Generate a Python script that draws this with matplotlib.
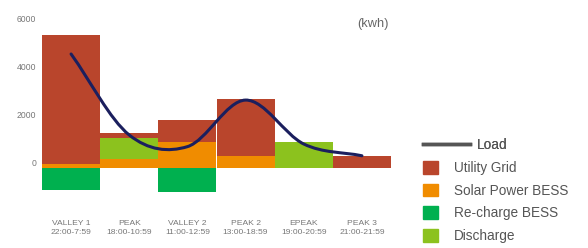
import numpy as np
import matplotlib
matplotlib.use("Agg")
from matplotlib import pyplot as plt
from matplotlib.path import Path
from matplotlib.patches import PathPatch, Patch
from matplotlib.lines import Line2D

plt.rcParams["font.family"] = ["Liberation Sans", "DejaVu Sans"]

categories = ["VALLEY 1\n22:00-7:59", "PEAK\n18:00-10:59", "VALLEY 2\n11:00-12:59",
              "PEAK 2\n13:00-18:59", "EPEAK\n19:00-20:59", "PEAK 3\n21:00-21:59"]
solar = [180, 370, 1100, 510, 0, 0]
discharge = [0, 890, 0, 0, 1080, 0]
utility = [5380, 200, 900, 2365, 0, 500]
recharge = [-920, 0, -990, 0, 0, 0]
load = [4750, 1375, 890, 2830, 1000, 510]

c_utility = "#b9452c"
c_solar = "#f08c00"
c_recharge = "#00b04f"
c_discharge = "#8cc21e"
c_load = "#1b1f5e"

fig = plt.figure(figsize=(5.88, 2.48), dpi=100)
ax = fig.add_axes([42 / 588, 1 - 192 / 248, (391 - 42) / 588, (192 - 24) / 248])

x = np.arange(len(categories))
solar = np.array(solar)
discharge = np.array(discharge)
ax.bar(x, solar, width=1.0, color=c_solar, linewidth=0)
ax.bar(x, discharge, width=1.0, bottom=solar, color=c_discharge, linewidth=0)
ax.bar(x, utility, width=1.0, bottom=solar + discharge, color=c_utility, linewidth=0)
ax.bar(x, recharge, width=1.0, color=c_recharge, linewidth=0)

# smooth load line (catmull-rom style bezier)
y = np.array(load, dtype=float)
n = len(y)
m = np.zeros(n)
m[0] = y[1] - y[0]
m[-1] = y[-1] - y[-2]
m[1:-1] = (y[2:] - y[:-2]) / 2
verts = [(x[0], y[0])]
codes = [Path.MOVETO]
for i in range(n - 1):
    verts += [(x[i] + 1 / 3, y[i] + m[i] / 3),
              (x[i + 1] - 1 / 3, y[i + 1] - m[i + 1] / 3),
              (x[i + 1], y[i + 1])]
    codes += [Path.CURVE4] * 3
ax.add_patch(PathPatch(Path(verts, codes), fill=False, edgecolor=c_load, lw=2.2,
                       capstyle="round", zorder=5))

ax.set_xlim(-0.5, 5.5)
ax.set_ylim(-1000, 6000)
ax.set_yticks([0, 2000, 4000, 6000])
ax.set_xticks(x)
ax.set_xticklabels(categories, fontsize=6.1, color="#777777", linespacing=1.45)
for lab in ax.get_yticklabels():
    lab.set_verticalalignment("bottom")
ax.tick_params(axis="y", length=0, pad=4, labelsize=6.2, labelcolor="#777777")
ax.tick_params(axis="x", length=0, pad=20)
for s in ax.spines.values():
    s.set_visible(False)

fig.text(373 / 588, 1 - 24 / 248, "(kwh)", fontsize=9.2, color="#666666",
         ha="center", va="center")

leg1 = fig.legend([Line2D([], [], color="#555555", lw=2.5)], ["Load"],
                  loc="center left", bbox_to_anchor=(423 / 588, 1 - 145 / 248),
                  frameon=False, fontsize=9.8, handlelength=3.45, handletextpad=0.5,
                  borderpad=0, borderaxespad=0, labelcolor="#555555")
handles = [Patch(color=c) for c in [c_utility, c_solar, c_recharge, c_discharge]]
fig.legend(handles, ["Utility Grid", "Solar Power BESS", "Re-charge BESS", "Discharge"],
           loc="upper left", bbox_to_anchor=(423 / 588, 1 - 161 / 248),
           frameon=False, fontsize=9.8, handlelength=1.1, handleheight=1.05,
           handletextpad=1.18, labelspacing=0.64, borderpad=0, borderaxespad=0,
           labelcolor="#555555")
fig.add_artist(leg1)

fig.savefig("out.png", dpi=100)
